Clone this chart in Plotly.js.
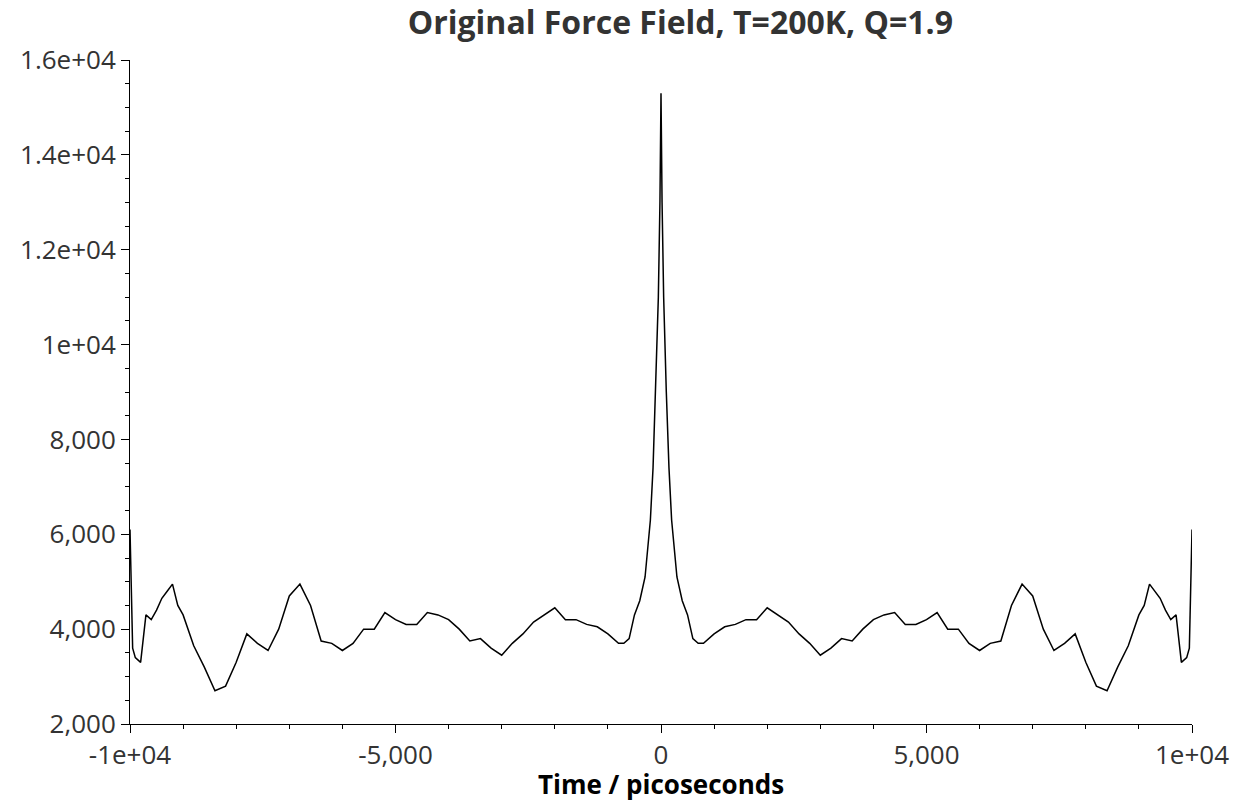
<!DOCTYPE html>
<html>
<head>
<script src="https://cdn.plot.ly/plotly-3.0.1.min.js"></script>
<style>body{margin:0}#plot{width:1237px;height:802px}</style>
</head>
<body>
<div id="plot"></div>
<script>
// positive half of the autocorrelation (the curve is symmetric about t=0)
var halfT = [0, 20, 50, 100, 150, 200, 300, 400, 500, 600, 700, 800, 1000, 1200, 1400, 1600, 1800, 2000,
  2200, 2400, 2600, 2800, 3000, 3200, 3400, 3600, 3800, 4000, 4200, 4400, 4600, 4800, 5000, 5200, 5400,
  5600, 5800, 6000, 6200, 6400, 6600, 6800, 7000, 7200, 7400, 7600, 7800, 8000, 8200, 8400, 8600, 8800,
  9000, 9100, 9200, 9300, 9400, 9500, 9600, 9700, 9800, 9900, 9950, 10000];
var halfV = [15300, 13000, 11000, 9000, 7400, 6300, 5100, 4600, 4300, 3800, 3700, 3700, 3900, 4050, 4100, 4200, 4200, 4450,
  4300, 4150, 3900, 3700, 3450, 3600, 3800, 3750, 4000, 4200, 4300, 4350, 4100, 4100, 4200, 4350, 4000,
  4000, 3700, 3550, 3700, 3750, 4500, 4950, 4700, 4000, 3550, 3700, 3900, 3300, 2800, 2700, 3200, 3650,
  4300, 4500, 4950, 4800, 4650, 4400, 4200, 4300, 3300, 3400, 3600, 6100];

var xs = [], ys = [];
for (var i = halfT.length - 1; i > 0; i--) { xs.push(-halfT[i]); ys.push(halfV[i]); }
for (var j = 0; j < halfT.length; j++) { xs.push(halfT[j]); ys.push(halfV[j]); }

var xTicks = [-10000, -5000, 0, 5000, 10000];
var xLabels = ["-1e+04", "-5,000", "0", "5,000", "1e+04"];
var yTicks = [2000, 4000, 6000, 8000, 10000, 12000, 14000, 16000];
var yLabels = ["2,000", "4,000", "6,000", "8,000", "1e+04", "1.2e+04", "1.4e+04", "1.6e+04"];

var font = "Open Sans, DejaVu Sans, sans-serif";
Plotly.newPlot("plot", [{
  x: xs, y: ys, type: "scatter", mode: "lines",
  line: {color: "black", width: 1.5}
}], {
  width: 1237, height: 802,
  margin: {l: 130, r: 45, t: 60, b: 78},
  title: {text: "<b>Original Force Field, T=200K, Q=1.9</b>", x: 0.55, y: 0.985, font: {family: font, size: 32, color: "#333"}},
  showlegend: false,
  plot_bgcolor: "white",
  xaxis: {
    range: [-10000, 10000], showgrid: false, zeroline: false, showline: true, linecolor: "black",
    ticks: "outside", ticklen: 8, tickcolor: "black", tickvals: xTicks, ticktext: xLabels,
    minor: {dtick: 1000, ticks: "outside", ticklen: 4, tickcolor: "black"},
    tickfont: {family: font, size: 26, color: "#333"},
    title: {text: "<b>Time / picoseconds</b>", standoff: 0, font: {family: font, size: 26, color: "black"}}
  },
  yaxis: {
    range: [2000, 16000], showgrid: false, zeroline: false, showline: true, linecolor: "black",
    ticks: "outside", ticklen: 8, tickcolor: "black", tickvals: yTicks, ticktext: yLabels,
    minor: {dtick: 500, ticks: "outside", ticklen: 4, tickcolor: "black"},
    tickfont: {family: font, size: 26, color: "#333"}
  }
}, {displayModeBar: false});
</script>
</body>
</html>
